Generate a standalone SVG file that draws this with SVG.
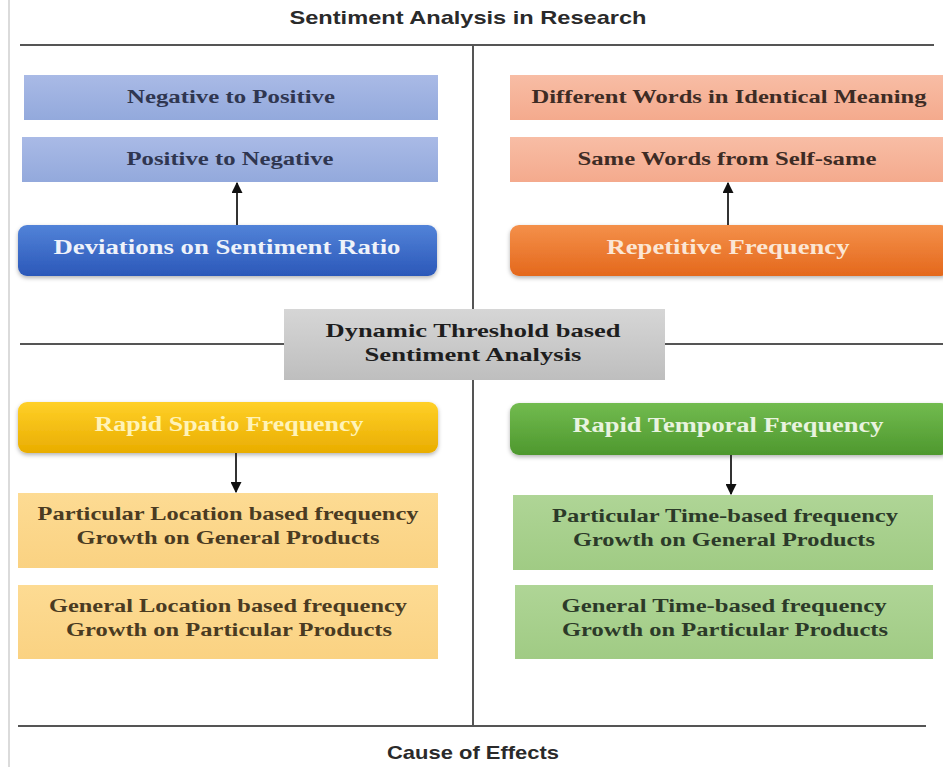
<svg xmlns="http://www.w3.org/2000/svg" width="943" height="767" viewBox="0 0 943 767">
  <defs>
    <linearGradient id="gBlue" x1="0" y1="0" x2="0" y2="1">
      <stop offset="0" stop-color="#5283d8"/>
      <stop offset="1" stop-color="#2b58b9"/>
    </linearGradient>
    <linearGradient id="gBlueLt" x1="0" y1="0" x2="0" y2="1">
      <stop offset="0" stop-color="#a9bae6"/>
      <stop offset="1" stop-color="#93a9dc"/>
    </linearGradient>
    <linearGradient id="gOrange" x1="0" y1="0" x2="0" y2="1">
      <stop offset="0" stop-color="#f4904a"/>
      <stop offset="1" stop-color="#e4681c"/>
    </linearGradient>
    <linearGradient id="gSalmon" x1="0" y1="0" x2="0" y2="1">
      <stop offset="0" stop-color="#f8bda5"/>
      <stop offset="1" stop-color="#f4aa8d"/>
    </linearGradient>
    <linearGradient id="gGray" x1="0" y1="0" x2="0" y2="1">
      <stop offset="0" stop-color="#d6d6d6"/>
      <stop offset="1" stop-color="#bebebe"/>
    </linearGradient>
    <linearGradient id="gGold" x1="0" y1="0" x2="0" y2="1">
      <stop offset="0" stop-color="#ffd028"/>
      <stop offset="1" stop-color="#e9ad00"/>
    </linearGradient>
    <linearGradient id="gYellowLt" x1="0" y1="0" x2="0" y2="1">
      <stop offset="0" stop-color="#fddb93"/>
      <stop offset="1" stop-color="#fad282"/>
    </linearGradient>
    <linearGradient id="gGreen" x1="0" y1="0" x2="0" y2="1">
      <stop offset="0" stop-color="#72bb4f"/>
      <stop offset="1" stop-color="#4e982e"/>
    </linearGradient>
    <linearGradient id="gGreenLt" x1="0" y1="0" x2="0" y2="1">
      <stop offset="0" stop-color="#afd596"/>
      <stop offset="1" stop-color="#a0cb84"/>
    </linearGradient>
    <filter id="shadow" x="-5%" y="-20%" width="110%" height="150%">
      <feDropShadow dx="0" dy="2" stdDeviation="2" flood-color="#000" flood-opacity="0.3"/>
    </filter>
    <marker id="arrow" viewBox="0 0 10 10" refX="9" refY="5" markerWidth="5.5" markerHeight="5.5" orient="auto-start-reverse">
      <path d="M0,0 L10,5 L0,10 z" fill="#111"/>
    </marker>
  </defs>
  <style>
    .rule { stroke: #555; stroke-width: 2; fill: none; }
    .edge { stroke: #333; stroke-width: 2; fill: none; marker-end: url(#arrow); }
    .cap { font-family: "Liberation Sans", Arial, sans-serif; font-weight: bold; font-size: 19px; fill: #2a2a2a; text-anchor: middle; }
    .lbl { font-family: "Liberation Serif", "Times New Roman", serif; font-weight: bold; font-size: 19px; text-anchor: middle; }
    .hd { font-family: "Liberation Serif", "Times New Roman", serif; font-weight: bold; font-size: 20px; text-anchor: middle; }
  </style>

  <rect width="943" height="767" fill="#ffffff"/>

  <!-- frame rules -->
  <g id="frame">
    <line x1="9" y1="0" x2="9" y2="767" stroke="#cfcfcf" stroke-width="1.5"/>
    <line class="rule" x1="20" y1="45" x2="934" y2="45"/>
    <line class="rule" x1="473" y1="45" x2="473" y2="726"/>
    <line class="rule" x1="20" y1="344" x2="284" y2="344"/>
    <line class="rule" x1="665" y1="344" x2="943" y2="344"/>
    <line class="rule" x1="18" y1="726" x2="926" y2="726"/>
    <text class="cap" x="468" y="24" textLength="357" lengthAdjust="spacingAndGlyphs">Sentiment Analysis in Research</text>
    <text class="cap" x="473" y="759" textLength="172" lengthAdjust="spacingAndGlyphs">Cause of Effects</text>
  </g>

  <!-- upper left: sentiment ratio -->
  <g id="neg-to-pos">
    <rect x="24" y="75" width="414" height="45" fill="url(#gBlueLt)"/>
    <text class="lbl" x="231" y="103" fill="#2f3650" textLength="208" lengthAdjust="spacingAndGlyphs">Negative to Positive</text>
  </g>
  <g id="pos-to-neg">
    <rect x="22" y="137" width="416" height="45" fill="url(#gBlueLt)"/>
    <text class="lbl" x="230" y="165" fill="#2f3650" textLength="207" lengthAdjust="spacingAndGlyphs">Positive to Negative</text>
  </g>
  <g id="deviations">
    <rect x="18" y="225" width="419" height="51" rx="9" fill="url(#gBlue)" filter="url(#shadow)"/>
    <text class="hd" x="227" y="254" fill="#eef2fa" textLength="347" lengthAdjust="spacingAndGlyphs">Deviations on Sentiment Ratio</text>
  </g>

  <!-- upper right: repetitive frequency -->
  <g id="different-words">
    <rect x="510" y="75" width="433" height="45" fill="url(#gSalmon)"/>
    <text class="lbl" x="729" y="103" fill="#3e2c25" textLength="395" lengthAdjust="spacingAndGlyphs">Different Words in Identical Meaning</text>
  </g>
  <g id="same-words">
    <rect x="510" y="137" width="433" height="45" fill="url(#gSalmon)"/>
    <text class="lbl" x="727" y="165" fill="#3e2c25" textLength="299" lengthAdjust="spacingAndGlyphs">Same Words from Self-same</text>
  </g>
  <g id="repetitive">
    <rect x="510" y="225" width="440" height="51" rx="9" fill="url(#gOrange)" filter="url(#shadow)"/>
    <text class="hd" x="728" y="254" fill="#fbe6d4" textLength="243" lengthAdjust="spacingAndGlyphs">Repetitive Frequency</text>
  </g>

  <!-- centre -->
  <g id="dynamic-threshold">
    <rect x="284" y="309" width="381" height="71" fill="url(#gGray)"/>
    <text class="lbl" x="473" y="337" fill="#1e1e1e" textLength="295" lengthAdjust="spacingAndGlyphs">Dynamic Threshold based</text>
    <text class="lbl" x="473" y="361" fill="#1e1e1e" textLength="217" lengthAdjust="spacingAndGlyphs">Sentiment Analysis</text>
  </g>

  <!-- lower left: spatio frequency -->
  <g id="spatio">
    <rect x="18" y="402" width="420" height="51" rx="9" fill="url(#gGold)" filter="url(#shadow)"/>
    <text class="hd" x="229" y="431" fill="#fff3b8" textLength="269" lengthAdjust="spacingAndGlyphs">Rapid Spatio Frequency</text>
  </g>
  <g id="location-particular">
    <rect x="18" y="493" width="420" height="75" fill="url(#gYellowLt)"/>
    <text class="lbl" x="228" y="520" fill="#4a3b22" textLength="381" lengthAdjust="spacingAndGlyphs">Particular Location based frequency</text>
    <text class="lbl" x="228" y="544" fill="#4a3b22" textLength="303" lengthAdjust="spacingAndGlyphs">Growth on General Products</text>
  </g>
  <g id="location-general">
    <rect x="18" y="585" width="420" height="74" fill="url(#gYellowLt)"/>
    <text class="lbl" x="228" y="612" fill="#4a3b22" textLength="358" lengthAdjust="spacingAndGlyphs">General Location based frequency</text>
    <text class="lbl" x="229" y="636" fill="#4a3b22" textLength="326" lengthAdjust="spacingAndGlyphs">Growth on Particular Products</text>
  </g>

  <!-- lower right: temporal frequency -->
  <g id="temporal">
    <rect x="510" y="403" width="440" height="52" rx="9" fill="url(#gGreen)" filter="url(#shadow)"/>
    <text class="hd" x="728" y="432" fill="#e8f3df" textLength="311" lengthAdjust="spacingAndGlyphs">Rapid Temporal Frequency</text>
  </g>
  <g id="time-particular">
    <rect x="513" y="495" width="420" height="75" fill="url(#gGreenLt)"/>
    <text class="lbl" x="725" y="522" fill="#2c3a29" textLength="346" lengthAdjust="spacingAndGlyphs">Particular Time-based frequency</text>
    <text class="lbl" x="724" y="546" fill="#2c3a29" textLength="302" lengthAdjust="spacingAndGlyphs">Growth on General Products</text>
  </g>
  <g id="time-general">
    <rect x="515" y="585" width="418" height="74" fill="url(#gGreenLt)"/>
    <text class="lbl" x="724" y="612" fill="#2c3a29" textLength="325" lengthAdjust="spacingAndGlyphs">General Time-based frequency</text>
    <text class="lbl" x="725" y="636" fill="#2c3a29" textLength="326" lengthAdjust="spacingAndGlyphs">Growth on Particular Products</text>
  </g>

  <!-- connectors -->
  <g id="connectors">
    <line class="edge" x1="237" y1="225" x2="237" y2="183"/>
    <line class="edge" x1="728" y1="225" x2="728" y2="183"/>
    <line class="edge" x1="236" y1="453" x2="236" y2="492"/>
    <line class="edge" x1="731" y1="455" x2="731" y2="494"/>
  </g>
</svg>
